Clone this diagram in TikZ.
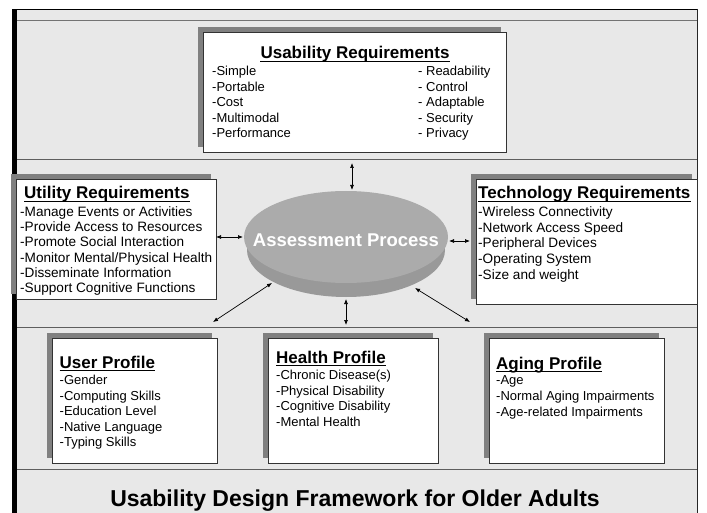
\documentclass[tikz,border=0pt]{standalone}
\usepackage{fontspec}
\setmainfont{Liberation Sans}
\usetikzlibrary{shapes.geometric,arrows.meta,shadows}

\definecolor{panel}{HTML}{E8E8E8}
\definecolor{shadowgray}{HTML}{808080}
\definecolor{rulegray}{HTML}{5E5E5E}
\definecolor{discTop}{HTML}{ABABAB}
\definecolor{discRim}{HTML}{999999}

\begin{document}
\begin{tikzpicture}[x=1pt,y=-1pt,
  card/.style={draw=black!80, line width=0.9pt, fill=white, inner sep=0pt,
    anchor=north west,
    drop shadow={shadow xshift=-5pt, shadow yshift=5pt, fill=shadowgray, opacity=1}},
  item/.style={anchor=base west, inner sep=0pt, font=\fontsize{13}{15}\selectfont},
  wideitem/.style={item, font=\fontsize{13.6}{15}\selectfont},
  head/.style={anchor=base west, inner sep=0pt, font=\fontsize{17}{20}\selectfont\bfseries},
  uline/.style={line width=1.1pt},
  sepline/.style={draw=rulegray, line width=1pt},
  conn/.style={{Latex[length=5pt,width=4pt]}-{Latex[length=5pt,width=4pt]}, line width=0.7pt},
]
% page and panel
\fill[white] (0,0) rectangle (707,513);
\useasboundingbox (0,0) rectangle (707,513);
\fill[panel] (12,9) rectangle (697,513);

% band separators
\draw[draw=black!55, line width=1.6pt] (17,20.5) -- (697,20.5);
\draw[sepline] (17,160) -- (697,160);
\draw[sepline] (17,327) -- (697,327);
\draw[sepline] (17,469) -- (697,469);

% frame
\draw[black, line width=1pt] (12,9.5) -- (697,9.5);
\draw[black!85, line width=1pt] (697,9) -- (697,513);
\fill[black] (12,9) rectangle (17,513);

% requirement and profile cards
\node[card, minimum width=303pt, minimum height=120pt] (usab) at (203,32) {};
\node[card, minimum width=200pt, minimum height=120pt] (util) at (16,179) {};
\node[card, minimum width=221pt, minimum height=125pt] (tech) at (476,179) {};
\node[card, minimum width=165pt, minimum height=125pt] (user) at (52,338) {};
\node[card, minimum width=170pt, minimum height=125pt] (health) at (268,338) {};
\node[card, minimum width=175pt, minimum height=125pt] (aging) at (489,338) {};

% usability requirements
\node[head, anchor=base] (usabT) at (355,59) {Usability Requirements};
\draw[uline] ([yshift=-2.5pt]usabT.base west) -- ([yshift=-2.5pt]usabT.base east);
\foreach \t [count=\i] in {-Simple,-Portable,-Cost,-Multimodal,-Performance}
  \node[item] (usabL\i) at (212,{75.5+15.6*(\i-1)}) {\t};
\foreach \t [count=\i] in {- Readability,- Control,- Adaptable,- Security,- Privacy}
  \node[item] (usabR\i) at (418,{75.5+15.6*(\i-1)}) {\t};

% utility requirements
\node[head] (utilT) at (24,199) {Utility Requirements};
\draw[uline] ([yshift=-2.5pt]utilT.base west) -- ([yshift=-2.5pt]utilT.base east);
\foreach \t [count=\i] in {-Manage Events or Activities,-Provide Access to Resources,
  -Promote Social Interaction,-Monitor Mental/Physical Health,-Disseminate Information,
  -Support Cognitive Functions}
  \node[wideitem] (utilL\i) at (20,{216.5+15.2*(\i-1)}) {\t};

% technology requirements
\node[head] (techT) at (478,199) {Technology Requirements};
\draw[uline] ([yshift=-2.5pt]techT.base west) -- ([yshift=-2.5pt]techT.base east);
\foreach \t [count=\i] in {-Wireless Connectivity,-Network Access Speed,-Peripheral Devices,
  -Operating System,-Size and weight}
  \node[wideitem] (techL\i) at (478,{216.5+15.7*(\i-1)}) {\t};

% user profile
\node[head] (userT) at (59.5,368) {User Profile};
\draw[uline] ([yshift=-2.5pt]userT.base west) -- ([yshift=-2.5pt]userT.base east);
\foreach \t [count=\i] in {-Gender,-Computing Skills,-Education Level,-Native Language,-Typing Skills}
  \node[item] (userL\i) at (59.5,{384.5+15.5*(\i-1)}) {\t};

% health profile
\node[head] (healthT) at (276,363) {Health Profile};
\draw[uline] ([yshift=-2.5pt]healthT.base west) -- ([yshift=-2.5pt]healthT.base east);
\foreach \t [count=\i] in {-Chronic Disease(s),-Physical Disability,-Cognitive Disability,-Mental Health}
  \node[item] (healthL\i) at (276,{379.5+15.7*(\i-1)}) {\t};

% aging profile
\node[head] (agingT) at (496,369) {Aging Profile};
\draw[uline] ([yshift=-2.5pt]agingT.base west) -- ([yshift=-2.5pt]agingT.base east);
\foreach \t [count=\i] in {-Age,-Normal Aging Impairments,-Age-related Impairments}
  \node[item] (agingL\i) at (496,{384.5+16*(\i-1)}) {\t};

% assessment disc
\node[ellipse, fill=discRim, minimum width=198pt, minimum height=94pt, inner sep=0pt] (rim) at (346,250) {};
\node[ellipse, fill=discTop, minimum width=204pt, minimum height=92pt, inner sep=0pt] (proc) at (346,237) {};
\node[text=white, font=\fontsize{18.5}{20}\selectfont\bfseries, inner sep=0pt] (procT) at (346,240) {Assessment Process};

% arrow end points
\coordinate (topA) at (352,163);   \coordinate (topB) at (352,190);
\coordinate (botA) at (346,299);   \coordinate (botB) at (346,325);
\coordinate (lftA) at (216,237);   \coordinate (lftB) at (243,237);
\coordinate (rgtA) at (449,241);   \coordinate (rgtB) at (470,241);
\coordinate (dlA) at (272,283);    \coordinate (dlB) at (213,322);
\coordinate (drA) at (415,288);    \coordinate (drB) at (470,322);

\draw[conn] (topA) -- (topB);
\draw[conn] (botA) -- (botB);
\draw[conn] (lftA) -- (lftB);
\draw[conn] (rgtA) -- (rgtB);
\draw[conn] (dlA) -- (dlB);
\draw[conn] (drA) -- (drB);

% framework caption
\node[font=\fontsize{23}{26}\selectfont\bfseries, anchor=base, inner sep=0pt] (caption) at (355,506)
  {Usability Design Framework for Older Adults};
\end{tikzpicture}
\end{document}
